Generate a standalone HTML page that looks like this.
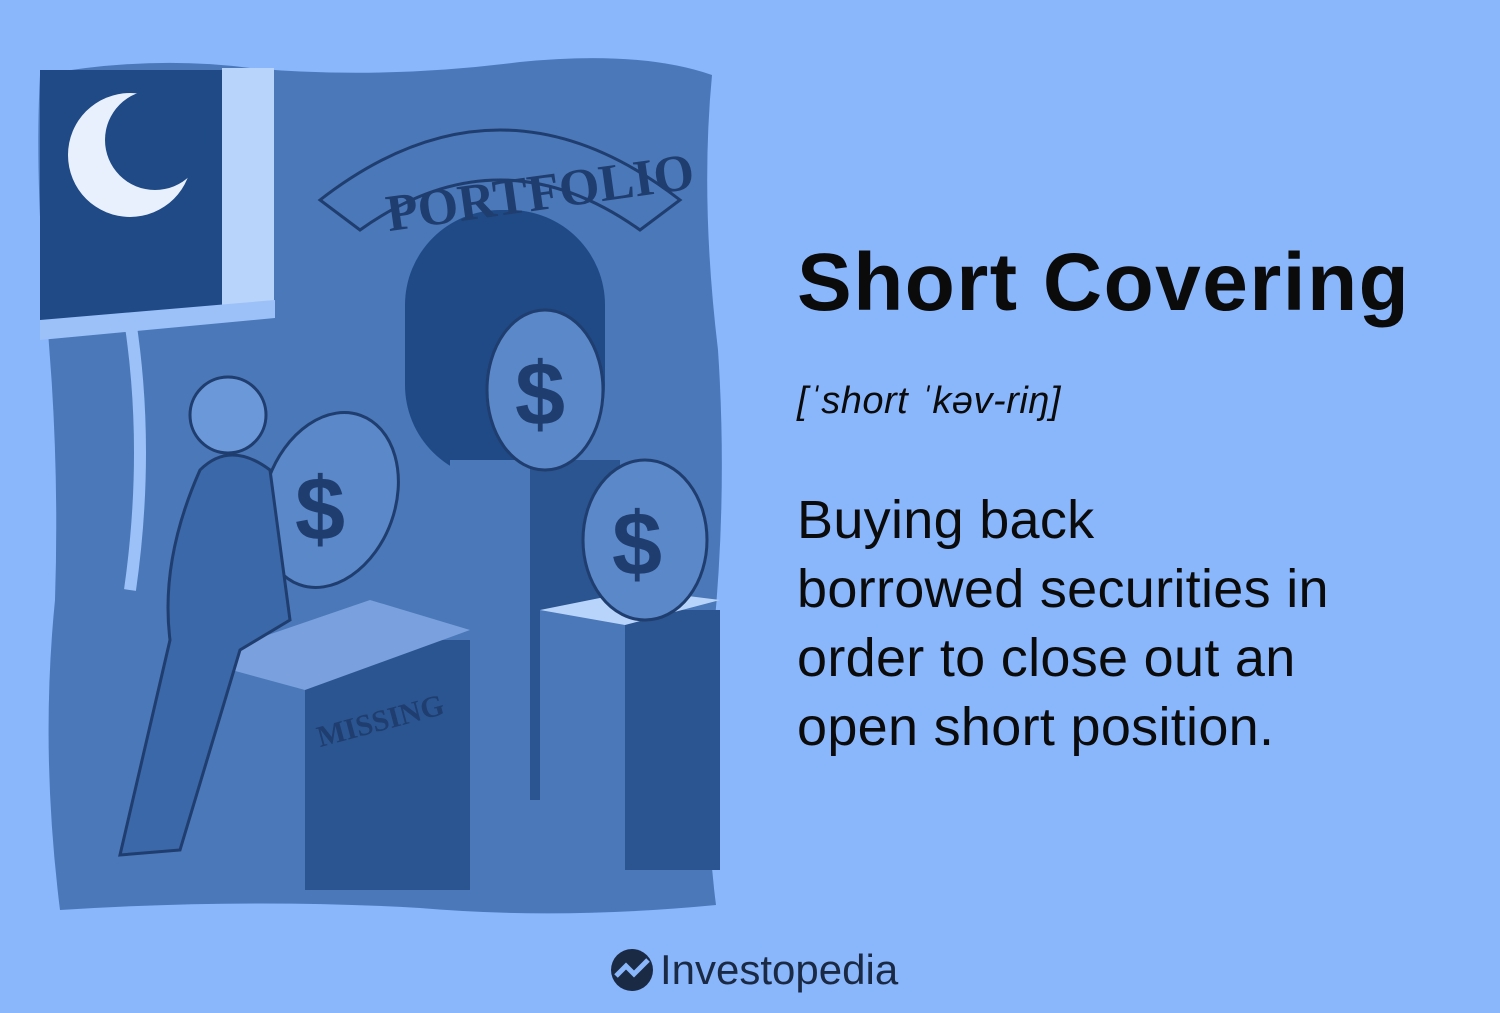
<!DOCTYPE html>
<html><head><meta charset="utf-8"><style>
html,body{margin:0;padding:0}
body{width:1500px;height:1013px;background:#8ab6fc;position:relative;overflow:hidden;font-family:"Liberation Sans",sans-serif;color:#0b0b0b}
.t{position:absolute;left:797px;margin:0}
</style></head><body>
<svg width="760" height="940" style="position:absolute;left:0;top:0">
<path d="M40 75 Q150 55 250 68 Q380 80 520 62 Q640 50 712 75 Q700 200 718 350 Q728 500 712 650 Q700 780 716 905 Q560 920 420 908 Q250 898 60 910 Q40 750 55 600 Q60 450 45 300 Q35 170 40 75Z" fill="#4a78b8"/>
<rect x="40" y="70" width="185" height="250" fill="#1f4a86"/>
<rect x="222" y="68" width="52" height="250" fill="#b8d4fb"/>
<circle cx="130" cy="155" r="62" fill="#e8f0fd"/>
<circle cx="155" cy="140" r="50" fill="#1f4a86"/>
<path d="M40 320 L275 300 L275 318 L40 340Z" fill="#9cc0f8"/>
<rect x="405" y="210" width="200" height="270" rx="95" fill="#1f4a86"/>
<path d="M320 200 Q500 60 680 200 L640 230 Q500 130 360 230Z" fill="#4a78b8" stroke="#1f3d6e" stroke-width="3"/>
<text x="380" y="215" font-family="Liberation Serif" font-size="52" font-weight="bold" fill="#1f3d6e" transform="rotate(-8 500 160)">PORTFOLIO</text>
<rect x="450" y="460" width="170" height="340" fill="#2a5590"/>
<rect x="450" y="460" width="80" height="340" fill="#4a78b8"/>
<rect x="540" y="610" width="180" height="260" fill="#2a5590"/>
<rect x="540" y="610" width="85" height="260" fill="#4a78b8"/>
<path d="M540 610 L625 625 L720 600 L640 590Z" fill="#b8d4fb"/>
<rect x="195" y="640" width="275" height="250" fill="#2a5590"/>
<rect x="195" y="660" width="110" height="230" fill="#4a78b8"/>
<path d="M195 660 L305 690 L470 630 L370 600Z" fill="#7aa0de"/>
<text x="310" y="730" font-family="Liberation Serif" font-size="30" font-weight="bold" fill="#1f3d6e" transform="rotate(-15 380 700)">MISSING</text>
<ellipse cx="545" cy="390" rx="58" ry="80" fill="#5a88c8" stroke="#1f3d6e" stroke-width="3"/>
<text x="515" y="425" font-size="90" font-weight="bold" fill="#1f3d6e">$</text>
<ellipse cx="645" cy="540" rx="62" ry="80" fill="#5a88c8" stroke="#1f3d6e" stroke-width="3"/>
<text x="612" y="575" font-size="90" font-weight="bold" fill="#1f3d6e">$</text>
<ellipse cx="330" cy="500" rx="65" ry="90" fill="#5a88c8" stroke="#1f3d6e" stroke-width="3" transform="rotate(20 330 500)"/>
<text x="295" y="540" font-size="90" font-weight="bold" fill="#1f3d6e">$</text>
<path d="M200 470 Q230 440 270 470 L290 620 L240 650 L180 850 L120 855 L170 640 Q160 560 200 470Z" fill="#3a68a8" stroke="#1f3d6e" stroke-width="3"/>
<circle cx="228" cy="415" r="38" fill="#6a98d8" stroke="#1f3d6e" stroke-width="3"/>
<path d="M130 320 Q150 450 130 590" stroke="#9cc0f8" stroke-width="12" fill="none"/>
</svg>
<h1 class="t" style="top:236px;font-size:82px;font-weight:bold;letter-spacing:1.5px">Short Covering</h1>
<p class="t" style="top:380px;font-size:38px;font-style:italic;letter-spacing:0.5px">[ˈshort ˈkəv-riŋ]</p>
<p class="t" style="top:486px;font-size:54px;line-height:69px;letter-spacing:0.3px">Buying back<br>borrowed securities in<br>order to close out an<br>open short position.</p>
<div style="position:absolute;left:610px;top:946px;display:flex;align-items:center">
<svg width="44" height="44"><circle cx="22" cy="22" r="21" fill="#1a2a44"/><path d="M6 28 L16 18 L24 26 L38 12" stroke="#8ab6fc" stroke-width="5" fill="none"/></svg>
<span style="font-size:42px;margin-left:6px;color:#1a2a44">Investopedia</span></div>
</body></html>
